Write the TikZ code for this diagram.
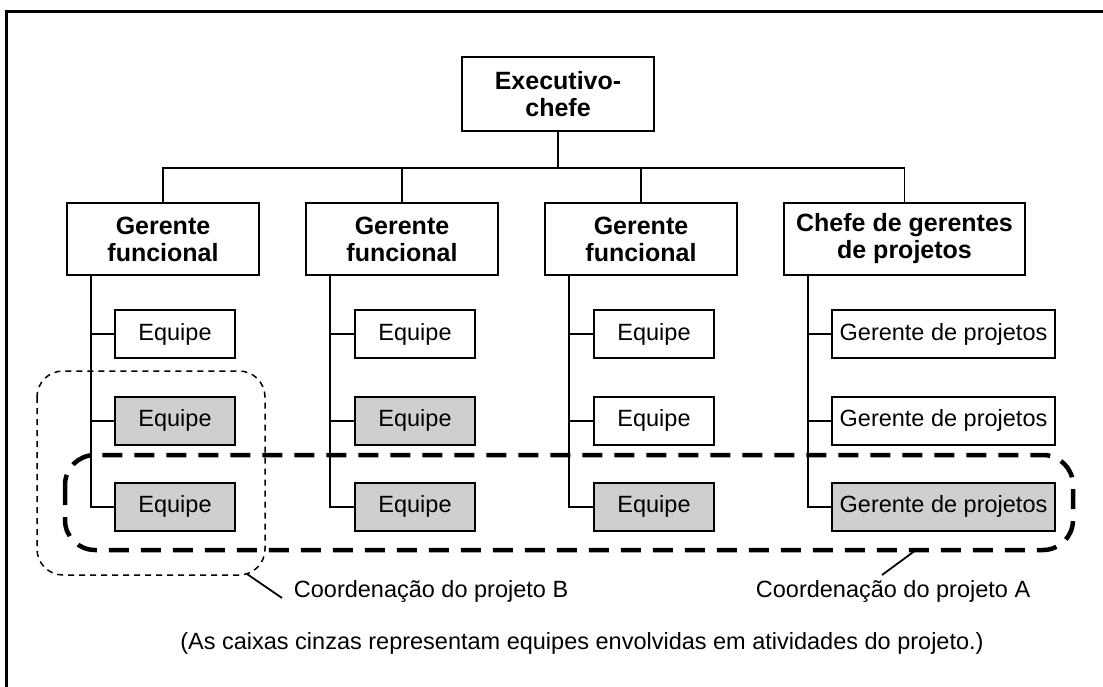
\documentclass[tikz,border=0pt]{standalone}
\usepackage{fontspec}
\setmainfont{Liberation Sans}
\usetikzlibrary{positioning}

\begin{document}
\begin{tikzpicture}[x=1pt, y=-1pt, line width=1.8pt,
	boss/.style={rectangle, draw, align=center, font=\fontsize{25}{27}\selectfont\bfseries, minimum width=192pt, minimum height=72pt, inner sep=0pt},
	team/.style={rectangle, draw, align=center, font=\fontsize{23.5}{26}\selectfont, minimum width=120pt, minimum height=48pt, inner sep=0pt},
	busy/.style={fill=gray!38},
	note/.style={font=\fontsize{23.5}{26}\selectfont, inner sep=0pt}]
	\useasboundingbox (0,0) rectangle (1103,687);
	% frame
	\draw[line width=3pt] (6,690) -- (6,12) -- (1106,12);

	% nodes
	\node[boss, minimum height=74pt] (exec) at (558,94) {Executivo-\\chefe};
	\node[boss] (fm1) at (163,239) {Gerente\\funcional};
	\node[boss] (fm2) at (402,239) {Gerente\\funcional};
	\node[boss] (fm3) at (641,239) {Gerente\\funcional};
	\node[boss, minimum width=241pt] (chief) at (904.5,239) {Chefe de gerentes\\de projetos};

	\node[team] (t11) at (175,334) {Equipe};
	\node[team, busy, below=37pt of t11] (t12) {Equipe};
	\node[team, busy, below=36pt of t12] (t13) {Equipe};
	\node[team] (t21) at (415,334) {Equipe};
	\node[team, busy, below=37pt of t21] (t22) {Equipe};
	\node[team, busy, below=36pt of t22] (t23) {Equipe};
	\node[team] (t31) at (654,334) {Equipe};
	\node[team, below=37pt of t31] (t32) {Equipe};
	\node[team, busy, below=36pt of t32] (t33) {Equipe};
	\node[team, minimum width=223pt] (t41) at (943.5,334) {Gerente de projetos};
	\node[team, minimum width=223pt, below=37pt of t41] (t42) {Gerente de projetos};
	\node[team, busy, minimum width=223pt, below=36pt of t42] (t43) {Gerente de projetos};

	\node[note, anchor=west] (labB) at (293,591) {Coordenação do projeto B};
	\node[note, anchor=west] (labA) at (755,591) {Coordenação do projeto A};
	\node[note] (legend) at (582,643) {(As caixas cinzas representam equipes envolvidas em atividades do projeto.)};

	% edges
	\draw (exec.south) -- ++(0,36) coordinate (bus);
	\draw (fm1.north) -- (fm1.north |- bus) -- (chief.north |- bus) -- (chief.north);
	\draw (fm2.north) -- (fm2.north |- bus);
	\draw (fm3.north) -- (fm3.north |- bus);
	\foreach \m/\t in {fm1/t1, fm2/t2, fm3/t3, chief/t4} {
		\draw ([xshift=25pt]\m.south west) |- (\t3.west);
		\draw (\t1.west) -- ++(-23,0);
		\draw (\t2.west) -- ++(-23,0);
	}

	% plates
	\draw[line width=1.5pt, dash pattern=on 6pt off 5pt, rounded corners=26pt] (37,371) rectangle (265,575);
	\draw[line width=4.5pt, dash pattern=on 20pt off 12pt, rounded corners=30pt] (65,455) rectangle (1073,550);
	\coordinate (tipB) at (247,574);
	\coordinate (tipA) at (916,550);
	\draw (tipB) -- ([xshift=-11pt, yshift=-7pt]labB.west);
	\draw (tipA) -- ([xshift=127pt, yshift=16pt]labA.west);
\end{tikzpicture}
\end{document}
